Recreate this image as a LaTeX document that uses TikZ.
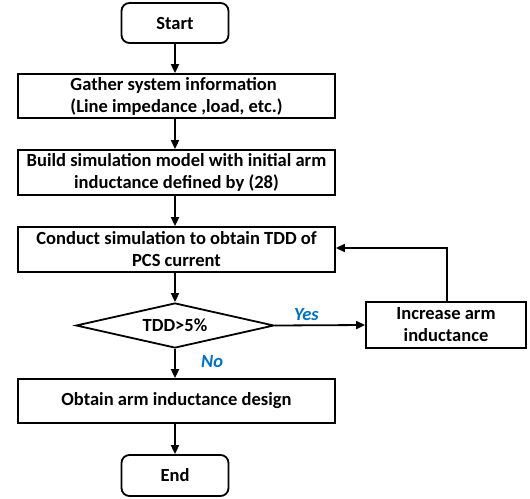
\documentclass[tikz,border=0pt]{standalone}
\usepackage{fontspec}
\setmainfont{Carlito}
\usetikzlibrary{shapes.geometric,arrows.meta}
\definecolor{lblblue}{RGB}{0,112,192}
\begin{document}
\begin{tikzpicture}[x=1bp,y=-1bp,
  every node/.style={font=\fontsize{18.6}{22}\selectfont\bfseries},
  box/.style={draw,line width=1.8bp,rectangle,minimum width=317bp,align=center,inner sep=1bp},
  term/.style={draw,line width=1.8bp,rounded corners=8bp,minimum width=107bp,minimum height=40bp},
  arr/.style={line width=1.8bp,-{Triangle[length=9bp,width=8bp]}},
  lbl/.style={text=lblblue,font=\fontsize{18.6}{20}\selectfont\bfseries\itshape}]
\useasboundingbox (0,0) rectangle (530,499);
\node[term] (start) at (175,23) {Start};
\node[box,minimum height=44bp,align=left] (gather) at (176.5,96) {Gather system information\\(Line impedance ,load, etc.)};
\node[box,minimum height=45bp] (build) at (176.5,172.5) {Build simulation model with initial arm\\inductance defined by (28)};
\node[box,minimum height=45bp] (sim) at (176.5,249.5) {Conduct simulation to obtain TDD of\\PCS current};
\node[draw,line width=1.8bp,diamond,aspect=4.4,inner sep=0pt,minimum width=198bp,minimum height=45bp] (tdd) at (175,325.5) {TDD>5\%};
\node[draw,line width=1.8bp,rectangle,minimum width=160bp,minimum height=46bp,align=center,inner sep=1bp] (inc) at (446,325) {Increase arm\\inductance};
\node[box,minimum height=44bp] (obtain) at (176.5,401) {Obtain arm inductance design};
\node[term,minimum height=41bp] (end) at (175,475.5) {End};
\coordinate (corner) at (447,248);
\draw[arr] (start.south -| 175,0) -- (gather.north -| 175,0);
\draw[arr] (gather.south -| 175,0) -- (build.north -| 175,0);
\draw[arr] (build.south -| 175,0) -- (sim.north -| 175,0);
\draw[arr] (sim.south -| 175,0) -- (tdd.north);
\draw[arr] (tdd.east) -- node[lbl,above,pos=0.35] {Yes} (inc.west);
\draw[arr] (inc.north -| corner) -- (corner) -- (corner -| sim.east);
\draw[arr] (tdd.south) -- node[lbl,right,pos=0.45,xshift=22bp] {No} (obtain.north -| 175,0);
\draw[arr] (obtain.south -| 175,0) -- (end.north);
\end{tikzpicture}
\end{document}
